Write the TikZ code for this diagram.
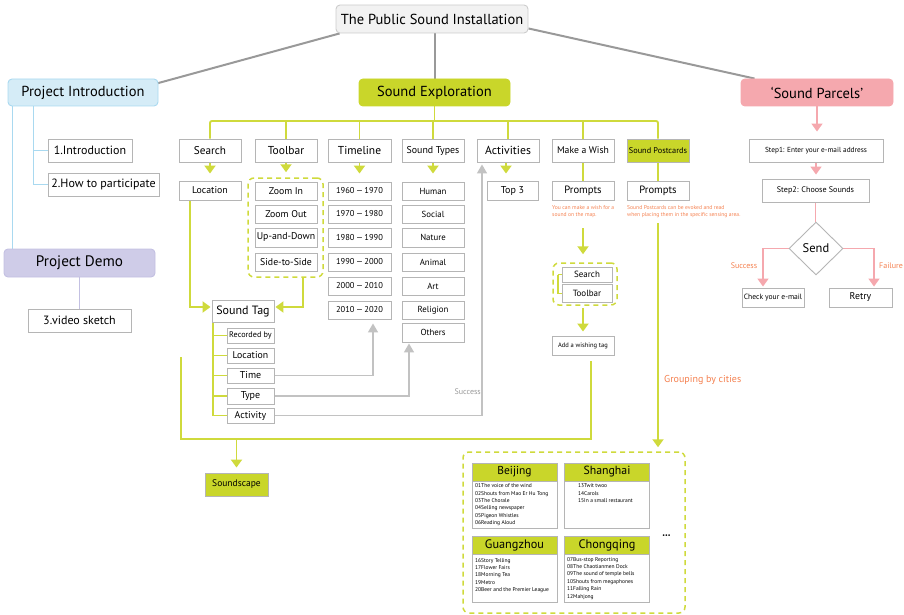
\documentclass[tikz,border=0pt]{standalone}
\usepackage{fontspec}
\setmainfont{PT Sans}
\usetikzlibrary{arrows.meta,shapes.geometric}
\pgfdeclarelayer{bg}\pgfsetlayers{bg,main}
\definecolor{yg}{HTML}{C9D62A}
\definecolor{ygl}{HTML}{CFDA3C}
\definecolor{pk}{HTML}{F5A8AE}
\definecolor{bfill}{HTML}{D5ECF7}
\definecolor{bdraw}{HTML}{A9D9F0}
\definecolor{lfill}{HTML}{CFCCE8}
\definecolor{ldraw}{HTML}{C3C0E2}
\definecolor{tfill}{HTML}{F2F2F2}
\definecolor{tdraw}{HTML}{CCCCCC}
\definecolor{bgray}{HTML}{B5B5B5}
\definecolor{orng}{HTML}{F4804F}
\definecolor{cgray}{HTML}{999999}
\definecolor{agray}{HTML}{C2C2C2}
\newcommand\myfs[1]{\fontsize{#1pt}{1.2\dimexpr#1pt\relax}\selectfont}
\newcommand\itemfont{\fontsize{5.5pt}{7.4pt}\selectfont}
\newcommand\notefont{\fontsize{5.6pt}{7pt}\selectfont}
\tikzset{
  bx/.style={draw=bgray, line width=0.9pt, fill=white, inner sep=0pt, align=center},
  topbox/.style={rounded corners=4pt, inner sep=0pt, line width=0.9pt},
  yline/.style={draw=ygl, line width=1.9pt},
  yarrow/.style={yline, -{Triangle[width=11pt,length=8pt]}},
  garrow/.style={draw=agray, line width=1.5pt, -{Triangle[width=10pt,length=9pt]}},
  pline/.style={draw=pk, line width=1.6pt},
  parrow/.style={pline, -{Triangle[width=11pt,length=8pt]}},
  mainline/.style={draw=cgray, line width=2pt},
  bline/.style={draw=bdraw, line width=1.2pt},
  lline/.style={draw=ldraw, line width=1.5pt},
  dgroup/.style={draw=ygl, line width=1.5pt, dash pattern=on 5pt off 4pt, rounded corners=6pt, inner sep=0pt},
  note/.style={text=orng, font=\notefont, align=left, inner sep=0pt, anchor=north west},
}
\begin{document}
\begin{tikzpicture}[x=1pt,y=-1pt]
\useasboundingbox (0,0) rectangle (904,615);

% ---------- level 0 / 1 ----------
\node[topbox, fill=tfill, draw=tdraw, minimum width=192pt, minimum height=28pt, font=\myfs{14.5}] (title) at (432,19) {The Public Sound Installation};
\node[topbox, fill=bfill, draw=bdraw, minimum width=150pt, minimum height=27pt, font=\myfs{14.5}] (intro) at (83,92.5) {Project Introduction};
\node[topbox, fill=yg, draw=yg, minimum width=151pt, minimum height=27pt, font=\myfs{14.5}] (explo) at (434.5,92.5) {Sound Exploration};
\node[topbox, fill=pk, draw=pk, minimum width=152pt, minimum height=27pt, font=\myfs{14.5}] (parcels) at (817,92.5) {`Sound Parcels'};

% ---------- project intro / demo ----------
\node[bx, minimum width=84pt, minimum height=23pt, font=\myfs{12}] (intro1) at (90,150.5) {1.Introduction};
\node[bx, minimum width=111pt, minimum height=23pt, font=\myfs{12}] (intro2) at (103.5,184.5) {2.How to participate};
\node[topbox, fill=lfill, draw=ldraw, minimum width=151pt, minimum height=28pt, font=\myfs{15.2}] (demo) at (79.5,263) {Project Demo};
\node[bx, minimum width=103pt, minimum height=23pt, font=\myfs{12}] (video) at (79.5,320.5) {3.video sketch};

% ---------- sound exploration top row ----------
\node[bx, minimum width=62pt, minimum height=23pt, font=\myfs{11.2}] (search) at (210,150.5) {Search};
\node[bx, minimum width=62pt, minimum height=23pt, font=\myfs{11.5}] (toolbar) at (286,150.5) {Toolbar};
\node[bx, minimum width=63pt, minimum height=23pt, font=\myfs{11.5}] (timeline) at (359.5,150.5) {Timeline};
\node[bx, minimum width=62pt, minimum height=23pt, font=\myfs{9.9}] (types) at (433,150.5) {Sound Types};
\node[bx, minimum width=62pt, minimum height=23pt, font=\myfs{11.7}] (activ) at (508,150.5) {Activities};
\node[bx, minimum width=62pt, minimum height=23pt, font=\myfs{9.7}] (wish) at (583,150.5) {Make a Wish};
\node[bx, fill=yg, minimum width=62pt, minimum height=23pt, font=\myfs{8.3}] (postc) at (658,150.5) {Sound Postcards};

% second row
\node[bx, minimum width=62pt, minimum height=19pt, font=\myfs{9.8}] (loc) at (210,190.5) {Location};
\node[dgroup, minimum width=75pt, minimum height=99pt] (tgroup) at (285.5,227.5) {};
\node[bx, minimum width=62pt, minimum height=18pt, font=\myfs{9.8}] (zin) at (286,191) {Zoom In};
\node[bx, minimum width=62pt, minimum height=18pt, font=\myfs{9.8}] (zout) at (286,214) {Zoom Out};
\node[bx, minimum width=62pt, minimum height=19pt, font=\myfs{9.8}] (updown) at (286,237.5) {Up-and-Down};
\node[bx, minimum width=62pt, minimum height=18pt, font=\myfs{9.8}] (side) at (286,262) {Side-to-Side};

\node[bx, minimum width=63pt, minimum height=18pt, font=\myfs{8.5}] (y1960) at (359.5,191) {1960\,—\,1970};
\node[bx, minimum width=63pt, minimum height=18pt, font=\myfs{8.5}] (y1970) at (359.5,214) {1970\,—\,1980};
\node[bx, minimum width=63pt, minimum height=19pt, font=\myfs{8.5}] (y1980) at (359.5,237.5) {1980\,—\,1990};
\node[bx, minimum width=63pt, minimum height=18pt, font=\myfs{8.5}] (y1990) at (359.5,262) {1990\,—\,2000};
\node[bx, minimum width=63pt, minimum height=18pt, font=\myfs{8.5}] (y2000) at (359.5,286) {2000\,—\,2010};
\node[bx, minimum width=63pt, minimum height=18pt, font=\myfs{8.5}] (y2010) at (359.5,310) {2010\,—\,2020};

\node[bx, minimum width=62pt, minimum height=18pt, font=\myfs{8.8}] (human) at (433,191) {Human};
\node[bx, minimum width=62pt, minimum height=18pt, font=\myfs{8.8}] (social) at (433,214) {Social};
\node[bx, minimum width=62pt, minimum height=19pt, font=\myfs{8.8}] (nature) at (433,237.5) {Nature};
\node[bx, minimum width=62pt, minimum height=18pt, font=\myfs{8.8}] (animal) at (433,262) {Animal};
\node[bx, minimum width=62pt, minimum height=18pt, font=\myfs{8.8}] (art) at (433,286) {Art};
\node[bx, minimum width=62pt, minimum height=18pt, font=\myfs{8.8}] (relig) at (433,310) {Religion};
\node[bx, minimum width=62pt, minimum height=19pt, font=\myfs{8.8}] (others) at (433,332.5) {Others};

\node[bx, minimum width=51pt, minimum height=19pt, font=\myfs{10}] (top3) at (512.5,190.5) {Top 3};
\node[bx, minimum width=62pt, minimum height=19pt, font=\myfs{10.6}] (prompts1) at (583,190.5) {Prompts};
\node[bx, minimum width=62pt, minimum height=19pt, font=\myfs{10.6}] (prompts2) at (658,190.5) {Prompts};
\node[note] (note1) at (552,205) {You can make a wish for a\\sound on the map.};
\node[note] (note2) at (627,205) {Sound Postcards can be evoked and read\\when placing them in the specific sensing area.};

\node[dgroup, minimum width=64pt, minimum height=42pt] (wgroup) at (585,284) {};
\node[bx, minimum width=50pt, minimum height=15pt, font=\myfs{9}] (wsearch) at (587,274.5) {Search};
\node[bx, minimum width=50pt, minimum height=18pt, font=\myfs{9}] (wtool) at (587,293.5) {Toolbar};
\node[bx, minimum width=62pt, minimum height=19pt, font=\myfs{6.5}] (wtag) at (583,345.5) {Add a wishing tag};

% sound tag
\node[bx, minimum width=62pt, minimum height=22pt, font=\myfs{12}] (stag) at (243,311) {Sound Tag};
\node[bx, minimum width=47pt, minimum height=15pt, font=\myfs{8.2}] (rec) at (250.5,335.5) {Recorded by};
\node[bx, minimum width=47pt, minimum height=15pt, font=\myfs{9.8}] (tloc) at (250.5,355.5) {Location};
\node[bx, minimum width=47pt, minimum height=15pt, font=\myfs{10}] (ttime) at (250.5,375.5) {Time};
\node[bx, minimum width=47pt, minimum height=16pt, font=\myfs{10}] (ttype) at (250.5,396) {Type};
\node[bx, minimum width=47pt, minimum height=15pt, font=\myfs{9.9}] (tact) at (250.5,415.5) {Activity};
\node[text=cgray, font=\myfs{8}, anchor=east, inner sep=0pt] (succg) at (481,392) {Success};

\node[bx, fill=yg, minimum width=63pt, minimum height=23pt, font=\myfs{9.5}] (scape) at (236.5,484.5) {Soundscape};

% cities
\node[text=orng, font=\myfs{10}, anchor=west, inner sep=0pt] (grp) at (664,380) {Grouping by cities};
\node[dgroup, minimum width=222pt, minimum height=161pt] (cgroup) at (574,532.5) {};
\node[bx, minimum width=85pt, minimum height=65pt] (bj) at (514.5,495.5) {};
\node[bx, fill=yg, minimum width=85pt, minimum height=18pt, font=\myfs{11.5}] (bjh) at (514.5,472) {Beijing};
\node[bx, minimum width=85pt, minimum height=65pt] (sh) at (607,495.5) {};
\node[bx, fill=yg, minimum width=85pt, minimum height=18pt, font=\myfs{11.8}] (shh) at (607,472) {Shanghai};
\node[bx, minimum width=85pt, minimum height=65pt] (gz) at (514.5,569.5) {};
\node[bx, fill=yg, minimum width=85pt, minimum height=18pt, font=\myfs{12.3}] (gzh) at (514.5,545.5) {Guangzhou};
\node[bx, minimum width=85pt, minimum height=65pt] (cq) at (607,569.5) {};
\node[bx, fill=yg, minimum width=85pt, minimum height=18pt, font=\myfs{12.3}] (cqh) at (607,545.5) {Chongqing};
\node[anchor=north west, font=\itemfont, align=left, inner sep=0pt] (bji) at (475,483.5) {01The voice of the wind\\02Shouts from Mao Er Hu Tong\\03The Chorale\\04Selling newspaper\\05Pigeon Whistles\\06Reading Aloud};
\node[anchor=north west, font=\itemfont, align=left, inner sep=0pt] (shi) at (578,483.5) {13Twit twoo\\14Carols\\15In a small restaurant};
\node[anchor=north west, font=\itemfont, align=left, inner sep=0pt] (gzi) at (475,558) {16Story Telling\\17Flower Fairs\\18Morning Tea\\19Metro\\20Beer and the Premier League};
\node[anchor=north west, font=\itemfont, align=left, inner sep=0pt] (cqi) at (567,557) {07Bus-stop Reporting\\08The Chaotianmen Dock\\09The sound of temple bells\\10Shouts from megaphones\\11Falling Rain\\12Mahjong};
\node[font=\myfs{6}, inner sep=0pt] (dots) at (666.5,536) {\textbullet\textbullet\textbullet};

% sound parcels
\node[bx, minimum width=134pt, minimum height=23pt, font=\myfs{7.3}] (step1) at (816,150.5) {Step1: Enter your e-mail address};
\node[bx, minimum width=107pt, minimum height=23pt, font=\myfs{8.1}] (step2) at (815.5,190.5) {Step2: Choose Sounds};
\node[diamond, draw=bgray, line width=0.9pt, fill=white, minimum width=54pt, minimum height=53pt, inner sep=0pt, font=\myfs{12.5}] (send) at (816,248.5) {Send};
\node[bx, minimum width=62pt, minimum height=19pt, font=\myfs{7.6}] (check) at (773,297.5) {Check your e-mail};
\node[bx, minimum width=63pt, minimum height=19pt, font=\myfs{9.8}] (retry) at (860.5,297.5) {Retry};
\node[text=orng, font=\myfs{8}, inner sep=0pt] (succp) at (744,265.5) {Success};
\node[text=orng, font=\myfs{8}, inner sep=0pt, anchor=west] (failp) at (879,265.5) {Failure};

% ---------- connectors ----------
\begin{pgfonlayer}{bg}
\draw[mainline] ([xshift=4pt]title.south west) -- ([xshift=-2pt,yshift=-5pt]intro.north east);
\draw[mainline] (explo.north) -- (explo.north |- title.south);
\draw[mainline] ([yshift=5pt]title.south east) -- ([xshift=14pt]parcels.north west);

% intro tree
\draw[bline] ([xshift=5pt]intro.south west) -- ([xshift=5pt]intro.south west |- demo.north);
\draw[bline] ([xshift=26pt]intro.south west) |- (intro2.west);
\draw[bline] ([xshift=26pt]intro.south west |- intro1.west) -- (intro1.west);
\draw[lline] (demo.south) -- (video.north);

% exploration bar
\coordinate (bar) at (434.5,121);
\draw[yline] (explo.south) -- (bar);
\draw[yline, rounded corners=2pt] (search.north) |- (bar) -| (postc.north);
\foreach \n in {toolbar,timeline,types,activ,wish}
  \draw[yline] (\n.north) -- (\n.north |- bar);

\draw[yarrow, shorten >=7pt] (search.south) -- (loc.north);
\draw[yarrow, shorten >=5pt] (toolbar.south) -- (toolbar.south |- tgroup.north);
\draw[yarrow, shorten >=8pt] (timeline.south) -- (y1960.north);
\draw[yarrow, shorten >=8pt] (types.south) -- (human.north);
\draw[yarrow, shorten >=7pt] ([xshift=-2pt]activ.south) -- ([xshift=-2pt]activ.south |- top3.north);
\draw[yline] (wish.south) -- (prompts1.north);
\draw[yline] (postc.south) -- (prompts2.north);

\draw[yarrow, shorten <=28pt, shorten >=8pt] (prompts1.south) -- (prompts1.south |- wgroup.north);
\draw[yline] ([xshift=-4pt]wsearch.west) -- (wsearch.west);
\draw[yline] ([xshift=-4pt]wtool.west) -- (wtool.west);
\draw[yline] ([xshift=-4pt]wsearch.west) -- ([xshift=-4pt]wtool.west);
\draw[yarrow, shorten <=2pt, shorten >=4pt] (wtag.north |- wgroup.south) -- (wtag.north);

% loop to soundscape
\coordinate (loopl) at (181,357);
\coordinate (loopb) at (181,439);
\draw[yline] ([xshift=8pt,yshift=-6pt]wtag.south) |- (loopb) -- (loopl);
\draw[yarrow, shorten >=5pt] (scape.north |- loopb) -- (scape.north);

% to sound tag
\draw[yarrow, shorten >=1pt] ([xshift=-20pt]loc.south) |- ([yshift=4pt]stag.west);
\draw[yarrow, shorten >=1pt] ([xshift=17.5pt]tgroup.south) |- ([yshift=4pt]stag.east);
\draw[yline] ([xshift=1pt]stag.south west) |- (tact.west);
\foreach \n in {rec,tloc,ttime,ttype}
  \draw[yline] ([xshift=1pt]stag.south west |- \n.west) -- (\n.west);

% gray feedback arrows
\draw[garrow, shorten >=4pt] (ttime.east) -| ([xshift=13.5pt]y2010.south);
\draw[garrow, shorten >=1pt] (ttype.east) -| ([xshift=-24pt]others.south);
\draw[garrow, shorten >=2pt] (tact.east) -| ([xshift=-26pt]activ.south);

% postcards to cities
\draw[yarrow, shorten <=23pt, shorten >=4pt] (prompts2.south) -- (prompts2.south |- cgroup.north);

% sound parcels flow
\draw[parrow, shorten >=7pt] (parcels.south) -- (parcels.south |- step1.north);
\draw[parrow, shorten >=4pt] (step1.south) -- (step1.south |- step2.north);
\draw[pline] (step2.south) -- (step2.south |- send.north);
\draw[parrow, shorten >=1pt] (send.west) -| ([xshift=-10pt]check.north);
\draw[parrow, shorten >=1pt] (send.east) -| ([xshift=13.5pt]retry.north);
\end{pgfonlayer}
\end{tikzpicture}
\end{document}
